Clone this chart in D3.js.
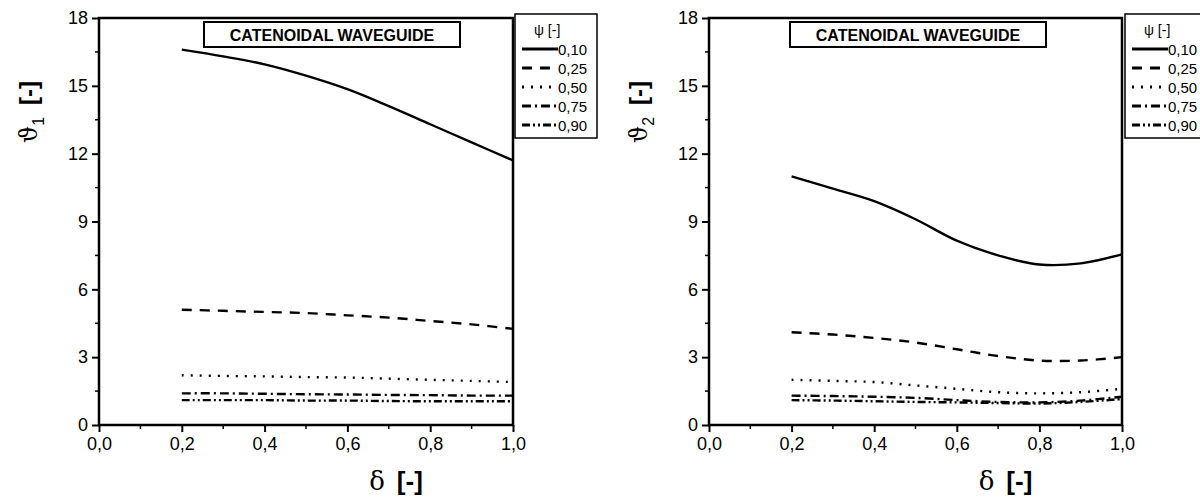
<!DOCTYPE html>
<html>
<head>
<meta charset="utf-8">
<script src="https://cdn.jsdelivr.net/npm/d3@7"></script>
<style>
  body { margin: 0; background: #fff; }
  svg text { font-family: "Liberation Sans", Arial, sans-serif; fill: #000; }
</style>
</head>
<body>
<svg id="chart" width="1200" height="497"></svg>
<script>
"use strict";

// delta values, shared by both panels
const deltas = [0.2, 0.3, 0.4, 0.5, 0.6, 0.7, 0.8, 0.9, 1.0];
const psiLabels = ["0,10", "0,25", "0,50", "0,75", "0,90"];

// theta_1 (left panel)
const theta1_010 = [16.6, 16.3, 15.95, 15.45, 14.85, 14.1, 13.3, 12.5, 11.7];
const theta1_025 = [5.1, 5.05, 5.0, 4.95, 4.85, 4.75, 4.6, 4.45, 4.25];
const theta1_050 = [2.2, 2.17, 2.15, 2.12, 2.1, 2.05, 2.0, 1.95, 1.9];
const theta1_075 = [1.4, 1.4, 1.38, 1.36, 1.35, 1.33, 1.32, 1.3, 1.3];
const theta1_090 = [1.1, 1.1, 1.1, 1.08, 1.08, 1.06, 1.05, 1.05, 1.05];

// theta_2 (right panel)
const theta2_010 = [11.0, 10.45, 9.9, 9.1, 8.15, 7.5, 7.1, 7.15, 7.55];
const theta2_025 = [4.1, 4.0, 3.85, 3.65, 3.35, 3.05, 2.85, 2.85, 3.0];
const theta2_050 = [2.0, 1.95, 1.9, 1.75, 1.6, 1.45, 1.4, 1.45, 1.6];
const theta2_075 = [1.3, 1.28, 1.25, 1.2, 1.1, 1.02, 1.0, 1.08, 1.25];
const theta2_090 = [1.1, 1.08, 1.05, 1.02, 1.0, 0.97, 0.95, 1.02, 1.15];

const xTicks = [0, 0.2, 0.4, 0.6, 0.8, 1.0];
const yTicks = [0, 3, 6, 9, 12, 15, 18];
const title = "CATENOIDAL WAVEGUIDE";

const dashes = [null, "10,8", "2,7", "9,4,2,4", "8,3,2,3,2,3"];

const svg = d3.select("#chart");
const fmt = d => d3.format(".1f")(d).replace(".", ",");

function drawPanel(left, right, series, sub, titleBox, legendX)
{
    const top = 18, bottom = 425;
    const x = d3.scaleLinear().domain([0, 1]).range([left, right]);
    const y = d3.scaleLinear().domain([0, 18]).range([bottom, top]);
    const g = svg.append("g");

    // minor ticks
    const minorX = d3.range(0.1, 1.0, 0.2);
    g.selectAll(".mx").data(minorX).enter().append("line")
        .attr("x1", d => x(d)).attr("x2", d => x(d))
        .attr("y1", bottom).attr("y2", bottom + 4)
        .attr("stroke", "#000").attr("stroke-width", 1.5);
    const minorY = d3.range(1.5, 18, 3);
    g.selectAll(".my").data(minorY).enter().append("line")
        .attr("x1", left - 4).attr("x2", left)
        .attr("y1", d => y(d)).attr("y2", d => y(d))
        .attr("stroke", "#000").attr("stroke-width", 1.5);

    const xAxis = g.append("g")
        .attr("transform", "translate(0," + bottom + ")")
        .call(d3.axisBottom(x).tickValues(xTicks).tickFormat(fmt).tickSize(7).tickPadding(5));
    const yAxis = g.append("g")
        .attr("transform", "translate(" + left + ",0)")
        .call(d3.axisLeft(y).tickValues(yTicks).tickFormat(d3.format("d")).tickSize(7).tickPadding(4));
    [xAxis, yAxis].forEach(a => {
        a.select(".domain").remove();
        a.selectAll("line").attr("stroke-width", 2);
        a.selectAll("text").attr("font-size", 18);
    });

    // frame
    g.append("rect")
        .attr("x", left).attr("y", top)
        .attr("width", right - left).attr("height", bottom - top)
        .attr("fill", "none").attr("stroke", "#000").attr("stroke-width", 2.5);

    // curves
    const line = d3.line()
        .x((d, i) => x(deltas[i]))
        .y(d => y(d))
        .curve(d3.curveCatmullRom);
    series.forEach((s, i) => {
        g.append("path")
            .datum(s)
            .attr("d", line)
            .attr("fill", "none")
            .attr("stroke", "#000")
            .attr("stroke-width", 2.4)
            .attr("stroke-dasharray", dashes[i]);
    });

    // title box
    g.append("rect")
        .attr("x", titleBox).attr("y", 22).attr("width", 256).attr("height", 25)
        .attr("fill", "#fff").attr("stroke", "#000").attr("stroke-width", 2);
    g.append("text")
        .attr("x", titleBox + 128).attr("y", 41)
        .attr("text-anchor", "middle")
        .attr("font-size", 16).attr("font-weight", "bold")
        .text(title);

    // legend
    const lg = g.append("g").attr("transform", "translate(" + legendX + ",14)");
    lg.append("rect")
        .attr("x", 0).attr("y", 0).attr("width", 82).attr("height", 124)
        .attr("fill", "#fff").attr("stroke", "#000").attr("stroke-width", 1.5);
    lg.append("text")
        .attr("x", 19).attr("y", 21).attr("font-size", 14)
        .text("\u03C8  [-]");
    psiLabels.forEach((lab, i) => {
        const yy = 35 + i * 19;
        lg.append("line")
            .attr("x1", 7).attr("x2", 43).attr("y1", yy).attr("y2", yy)
            .attr("stroke", "#000").attr("stroke-width", 2.8)
            .attr("stroke-dasharray", dashes[i]);
        lg.append("text")
            .attr("x", 43).attr("y", yy + 6).attr("font-size", 15)
            .text(lab);
    });

    // axis titles
    const xt = g.append("text")
        .attr("x", (left + right) / 2 + 90).attr("y", 490)
        .attr("text-anchor", "middle").attr("font-size", 26);
    xt.append("tspan").attr("font-family", "DejaVu Serif").text("\u03B4");
    xt.append("tspan").attr("dx", 12).attr("font-weight", "bold").text("[-]");

    const yt = g.append("text")
        .attr("transform", "translate(" + (left - 62) + ",112) rotate(-90)")
        .attr("text-anchor", "middle").attr("font-size", 24);
    yt.append("tspan").attr("font-family", "DejaVu Serif").text("\u03D1");
    yt.append("tspan").attr("font-size", 16).attr("dy", 7).text(sub);
    yt.append("tspan").attr("dy", -7).attr("dx", 12).attr("font-weight", "bold").text("[-]");
}

drawPanel(99, 513,
          [theta1_010, theta1_025, theta1_050, theta1_075, theta1_090],
          "1", 204, 515);
drawPanel(709, 1122,
          [theta2_010, theta2_025, theta2_050, theta2_075, theta2_090],
          "2", 790, 1125);
</script>
</body>
</html>
